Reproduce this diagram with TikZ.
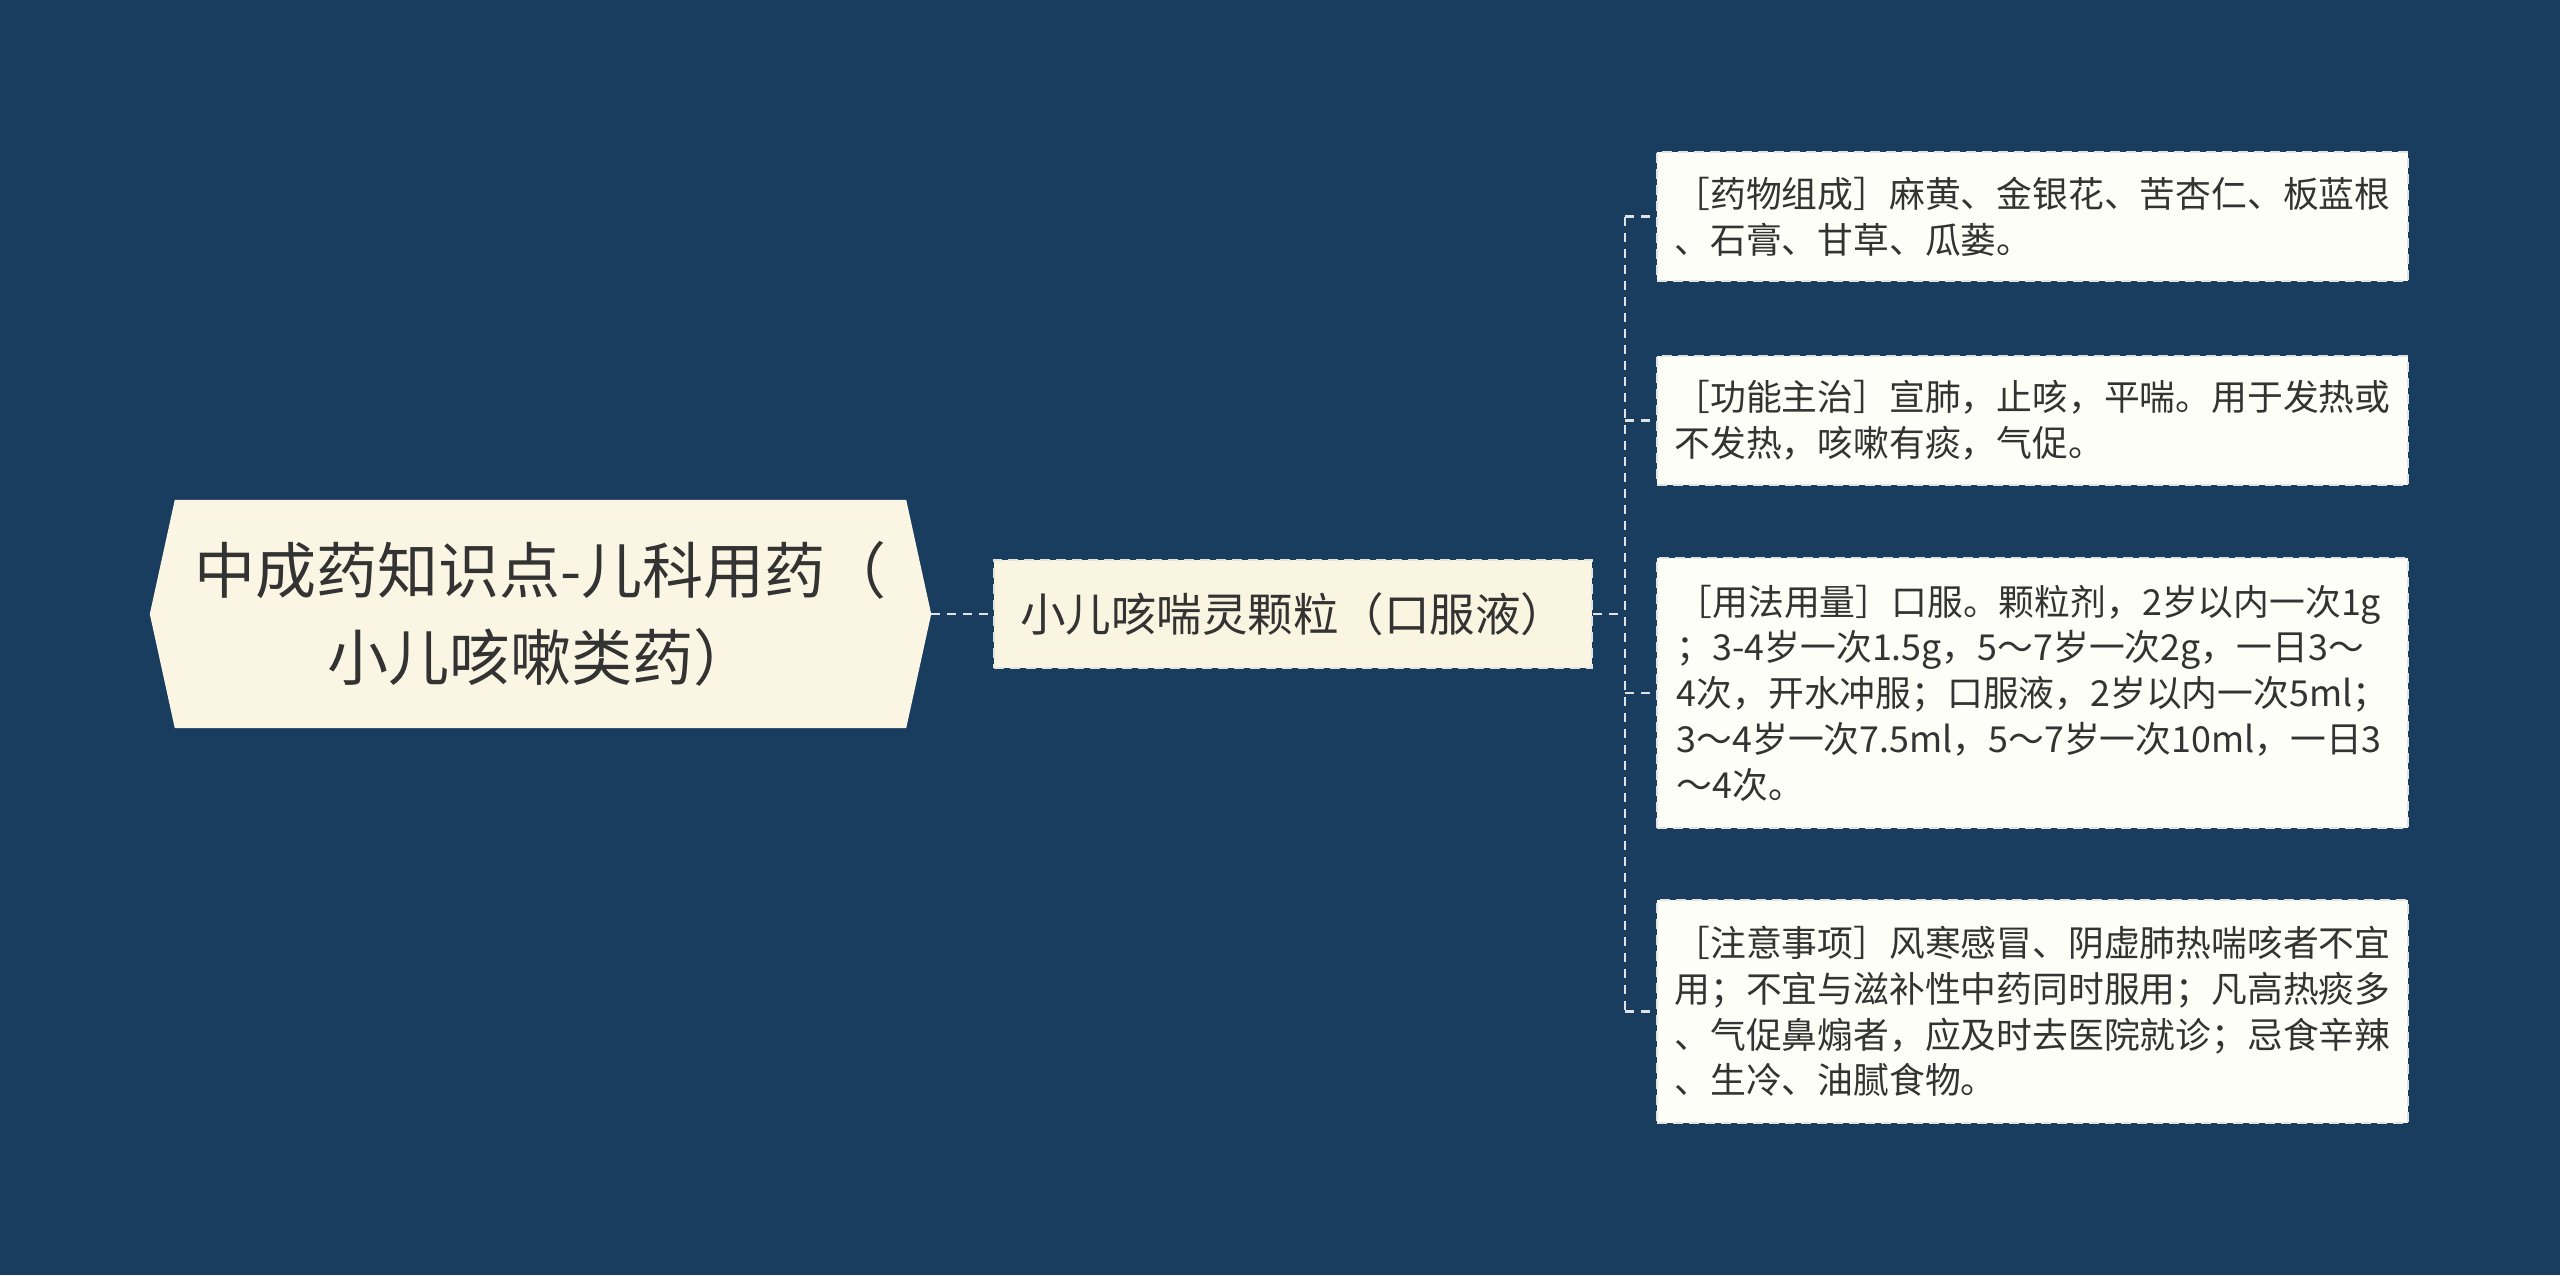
\documentclass[tikz,border=0pt]{standalone}
\usepackage{fontspec}
\setmainfont{Noto Sans CJK SC}
\usetikzlibrary{backgrounds,calc}
\definecolor{bgc}{HTML}{183D5F}
\definecolor{rootfill}{HTML}{FBF6E3}
\definecolor{midfill}{HTML}{FAF5E1}
\definecolor{leaffill}{HTML}{FEFEF8}
\definecolor{txt}{HTML}{333333}
\definecolor{linec}{HTML}{E2E2E2}
\tikzset{
  rootbox/.style={minimum width=781pt, minimum height=228pt, inner sep=0pt, align=center, text=txt,
    font=\fontsize{61}{86.5}\selectfont},
  midbox/.style={draw=linec, fill=midfill, line width=2.5pt, dash pattern=on 10pt off 6pt,
    minimum width=598pt, minimum height=108pt, inner sep=0pt, text=txt,
    font=\fontsize{45.5}{55}\selectfont},
  leafbox/.style={draw=linec, fill=leaffill, line width=2.5pt, dash pattern=on 10pt off 6pt,
    minimum width=751pt, inner sep=0pt, align=left, text=txt,
    font=\fontsize{35.8}{45.7}\selectfont},
  conn/.style={draw=linec, line width=2.5pt, dash pattern=on 9pt off 7pt}
}
\begin{document}
\begin{tikzpicture}[x=1pt,y=-1pt]
\useasboundingbox (0,0) rectangle (2560,1275);
\node[rootbox] (root) at (540.5,614) {中成药知识点-儿科用药（\\小儿咳嗽类药）};
\node[midbox] (mid) at (1293,614) {小儿咳喘灵颗粒（口服液）};
\node[leafbox, minimum height=129pt] (l1) at (2032.5,216.5) {［药物组成］麻黄、金银花、苦杏仁、板蓝根\\、石膏、甘草、瓜蒌。};
\node[leafbox, minimum height=129pt] (l2) at (2032.5,420.5) {［功能主治］宣肺，止咳，平喘。用于发热或\\不发热，咳嗽有痰，气促。};
\node[leafbox, minimum height=270pt] (l3) at (2032.5,693) {［用法用量］口服。颗粒剂，2岁以内一次1g\\；3-4岁一次1.5g，5～7岁一次2g，一日3～\\4次，开水冲服；口服液，2岁以内一次5ml；\\3～4岁一次7.5ml，5～7岁一次10ml，一日3\\～4次。};
\node[leafbox, minimum height=223pt] (l4) at (2032.5,1011.5) {［注意事项］风寒感冒、阴虚肺热喘咳者不宜\\用；不宜与滋补性中药同时服用；凡高热痰多\\、气促鼻煽者，应及时去医院就诊；忌食辛辣\\、生冷、油腻食物。};
\coordinate (j) at (1625,614);
\begin{scope}[on background layer]
  \fill[bgc] (0,0) rectangle (2560,1275);
  \fill[rootfill] (root.west) -- ($(root.north west)+(25,0)$) -- ($(root.north east)+(-25,0)$)
    -- (root.east) -- ($(root.south east)+(-25,0)$) -- ($(root.south west)+(25,0)$) -- cycle;
\end{scope}
\draw[conn] (root.east) -- (mid.west);
\draw[conn] (mid.east) -- (j);
\draw[conn] (j |- l1.west) -- (j |- l4.west);
\foreach \n in {l1,l2,l3,l4} { \draw[conn] (j |- \n.west) -- (\n.west); }
\end{tikzpicture}
\end{document}
